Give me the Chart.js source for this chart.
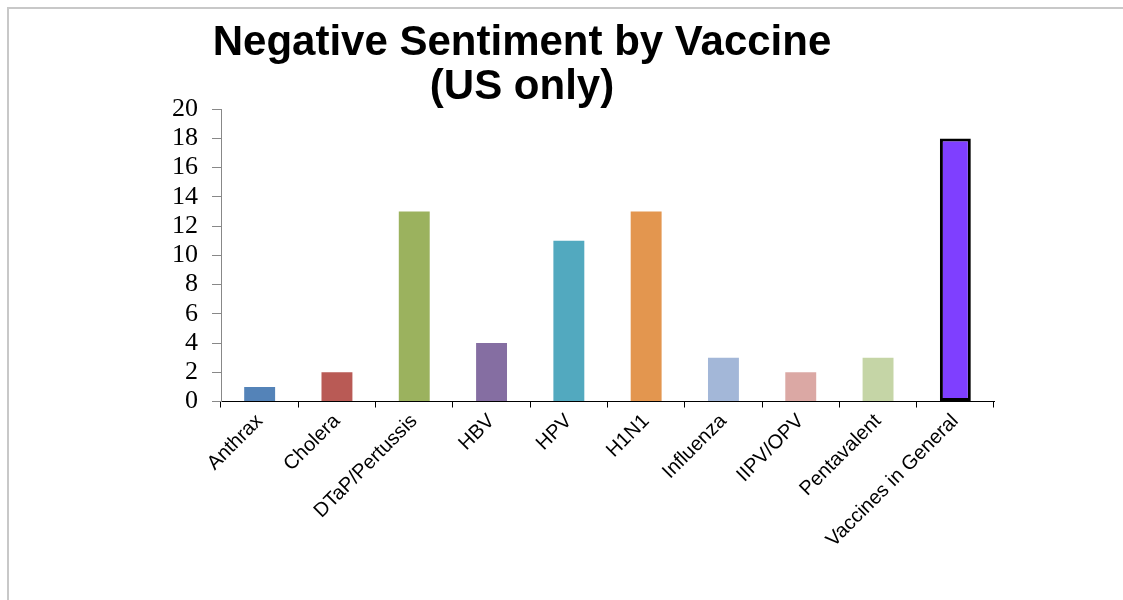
<!DOCTYPE html>
<html>
<head>
<meta charset="utf-8">
<script src="https://cdn.jsdelivr.net/npm/chart.js@4"></script>
<style>
  html, body { margin: 0; padding: 0; background: #fff; }
  body { width: 1123px; height: 600px; overflow: hidden; position: relative; }
  .frame { position: absolute; left: 7px; top: 7px; right: -5px; bottom: -5px; border-left: 2px solid #c8c8c8; border-top: 2px solid #c8c8c8; }
  .wrap { position: absolute; left: 0; top: 0; width: 1123px; height: 600px; }
</style>
</head>
<body>
<div class="frame"></div>
<div class="wrap"><canvas id="chart"></canvas></div>
<script>
const categories = ['Anthrax', 'Cholera', 'DTaP/Pertussis', 'HBV', 'HPV', 'H1N1', 'Influenza', 'IIPV/OPV', 'Pentavalent', 'Vaccines in General'];
const counts = [1, 2, 13, 4, 11, 13, 3, 2, 3, 18];
const barColors = ['#5483B8', '#B95A55', '#9BB25E', '#856EA2', '#52A9BF', '#E3964F', '#A3B7D8', '#DBA8A4', '#C5D5A6', '#7F3FFF'];
const borderColors = ['#5483B8', '#B95A55', '#9BB25E', '#856EA2', '#52A9BF', '#E3964F', '#A3B7D8', '#DBA8A4', '#C5D5A6', '#000000'];
const borderWidths = [0, 0, 0, 0, 0, 0, 0, 0, 0, 3];
const titleLines = ['Negative Sentiment by Vaccine', '(US only)'];

const ctx = document.getElementById('chart');

new Chart(ctx, {
    type: 'bar',
    data: {
        labels: categories,
        datasets: [{
            data: counts,
            backgroundColor: barColors,
            borderColor: borderColors,
            borderWidth: borderWidths,
            borderSkipped: false,
            barPercentage: 0.4,
            categoryPercentage: 1.0
        }]
    },
    options: {
        responsive: true,
        maintainAspectRatio: false,
        animation: false,
        // left/right padding keeps the title centred where the original has it
        layout: { padding: { left: 50, right: 129, top: 0, bottom: 46 } },
        plugins: {
            legend: { display: false },
            tooltip: { enabled: false },
            title: {
                display: true,
                text: titleLines,
                color: '#000',
                font: { family: 'Liberation Sans, Arial, sans-serif', size: 42, weight: 'bold', lineHeight: 1.05 },
                padding: { top: 21, bottom: 0 }
            }
        },
        scales: {
            x: {
                grid: { offset: true, drawOnChartArea: false, drawTicks: true, tickLength: 6, color: '#000', lineWidth: 1 },
                border: { color: '#000', width: 1 },
                ticks: {
                    color: '#000',
                    minRotation: 45,
                    maxRotation: 45,
                    autoSkip: false,
                    padding: 2,
                    font: { family: 'Liberation Sans, Arial, sans-serif', size: 20 }
                }
            },
            y: {
                min: 0,
                max: 20,
                afterFit: (scale) => { scale.width = 171; },
                grid: { drawOnChartArea: false, drawTicks: true, tickLength: 9, color: '#888', lineWidth: 1 },
                border: { color: '#888', width: 1 },
                ticks: {
                    stepSize: 2,
                    autoSkip: false,
                    color: '#000',
                    padding: 14,
                    font: { family: 'Liberation Serif, Times New Roman, serif', size: 26 }
                }
            }
        }
    }
});
</script>
</body>
</html>
